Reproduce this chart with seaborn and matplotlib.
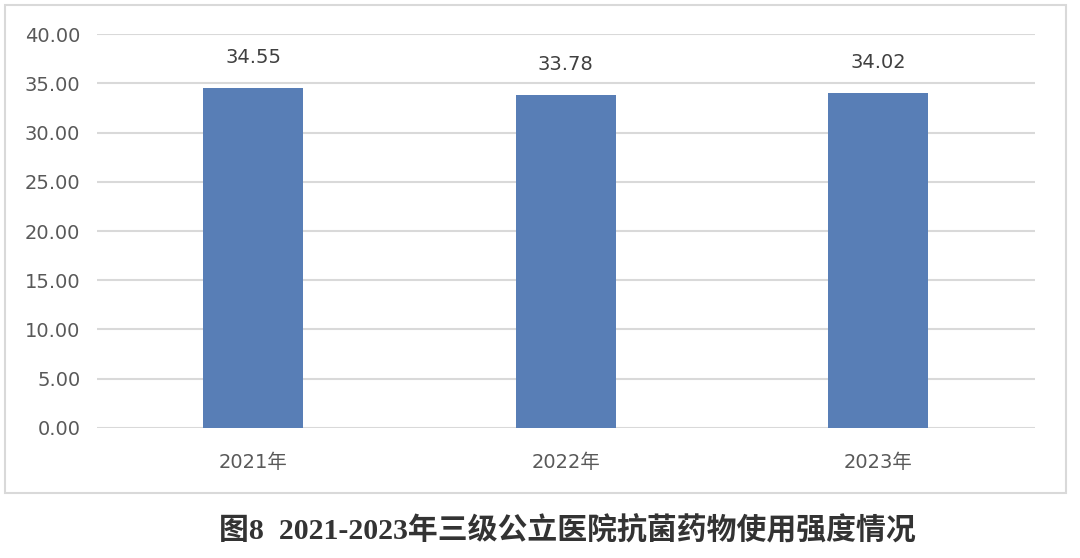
import matplotlib
matplotlib.use("Agg")
import matplotlib.pyplot as plt
import seaborn as sns
import pandas as pd
from matplotlib.patches import Rectangle

years = ["2021年", "2022年", "2023年"]
values = [34.55, 33.78, 34.02]
yticks = [0, 5, 10, 15, 20, 25, 30, 35, 40]
caption = "图8  2021-2023年三级公立医院抗菌药物使用强度情况"

sns.set_theme(style="white")
plt.rcParams['font.family'] = ['DejaVu Sans', 'Noto Sans CJK SC']

df = pd.DataFrame({"year": years, "value": values})

fig = plt.figure(figsize=(10.8, 5.58), dpi=100)
ax = fig.add_axes([0.0898, 0.233, 0.958 - 0.0898, 0.939 - 0.233])

# outer border
fig.patches.append(Rectangle((5 / 1080, 1 - 493 / 558), 1061 / 1080, 488 / 558,
                             transform=fig.transFigure, fill=False,
                             edgecolor="#d9d9d9", linewidth=1.5, zorder=0))

sns.barplot(data=df, x="year", y="value", hue="year",
            palette=["#587EB6"] * 3, saturation=1, width=0.32, legend=False,
            ax=ax, zorder=3, linewidth=0)

ax.set_ylim(0, 40)
ax.set_yticks(yticks)
ax.set_yticklabels([f"{v:.2f}" for v in yticks])
ax.yaxis.grid(True, color="#d9d9d9", linewidth=1.5, zorder=0)
ax.set_axisbelow(True)
for s in ax.spines.values():
    s.set_visible(False)
ax.set_xlabel("")
ax.set_ylabel("")
ax.tick_params(axis="y", length=0, pad=12, labelsize=14, labelcolor="#595959")
ax.tick_params(axis="x", length=0, pad=18, labelsize=14, labelcolor="#595959")

for i, v in enumerate(values):
    ax.annotate(f"{v:.2f}", (i, v), xytext=(0, 22), textcoords="offset points",
                ha="center", va="center", fontsize=14, color="#404040")

fig.text(567 / 1080, 1 - 530 / 558, caption, ha="center", va="center",
         fontsize=21.5, fontweight="bold", color="#333333",
         family=['Liberation Serif', 'Noto Sans CJK SC'])

fig.savefig("out.png", dpi=100)
